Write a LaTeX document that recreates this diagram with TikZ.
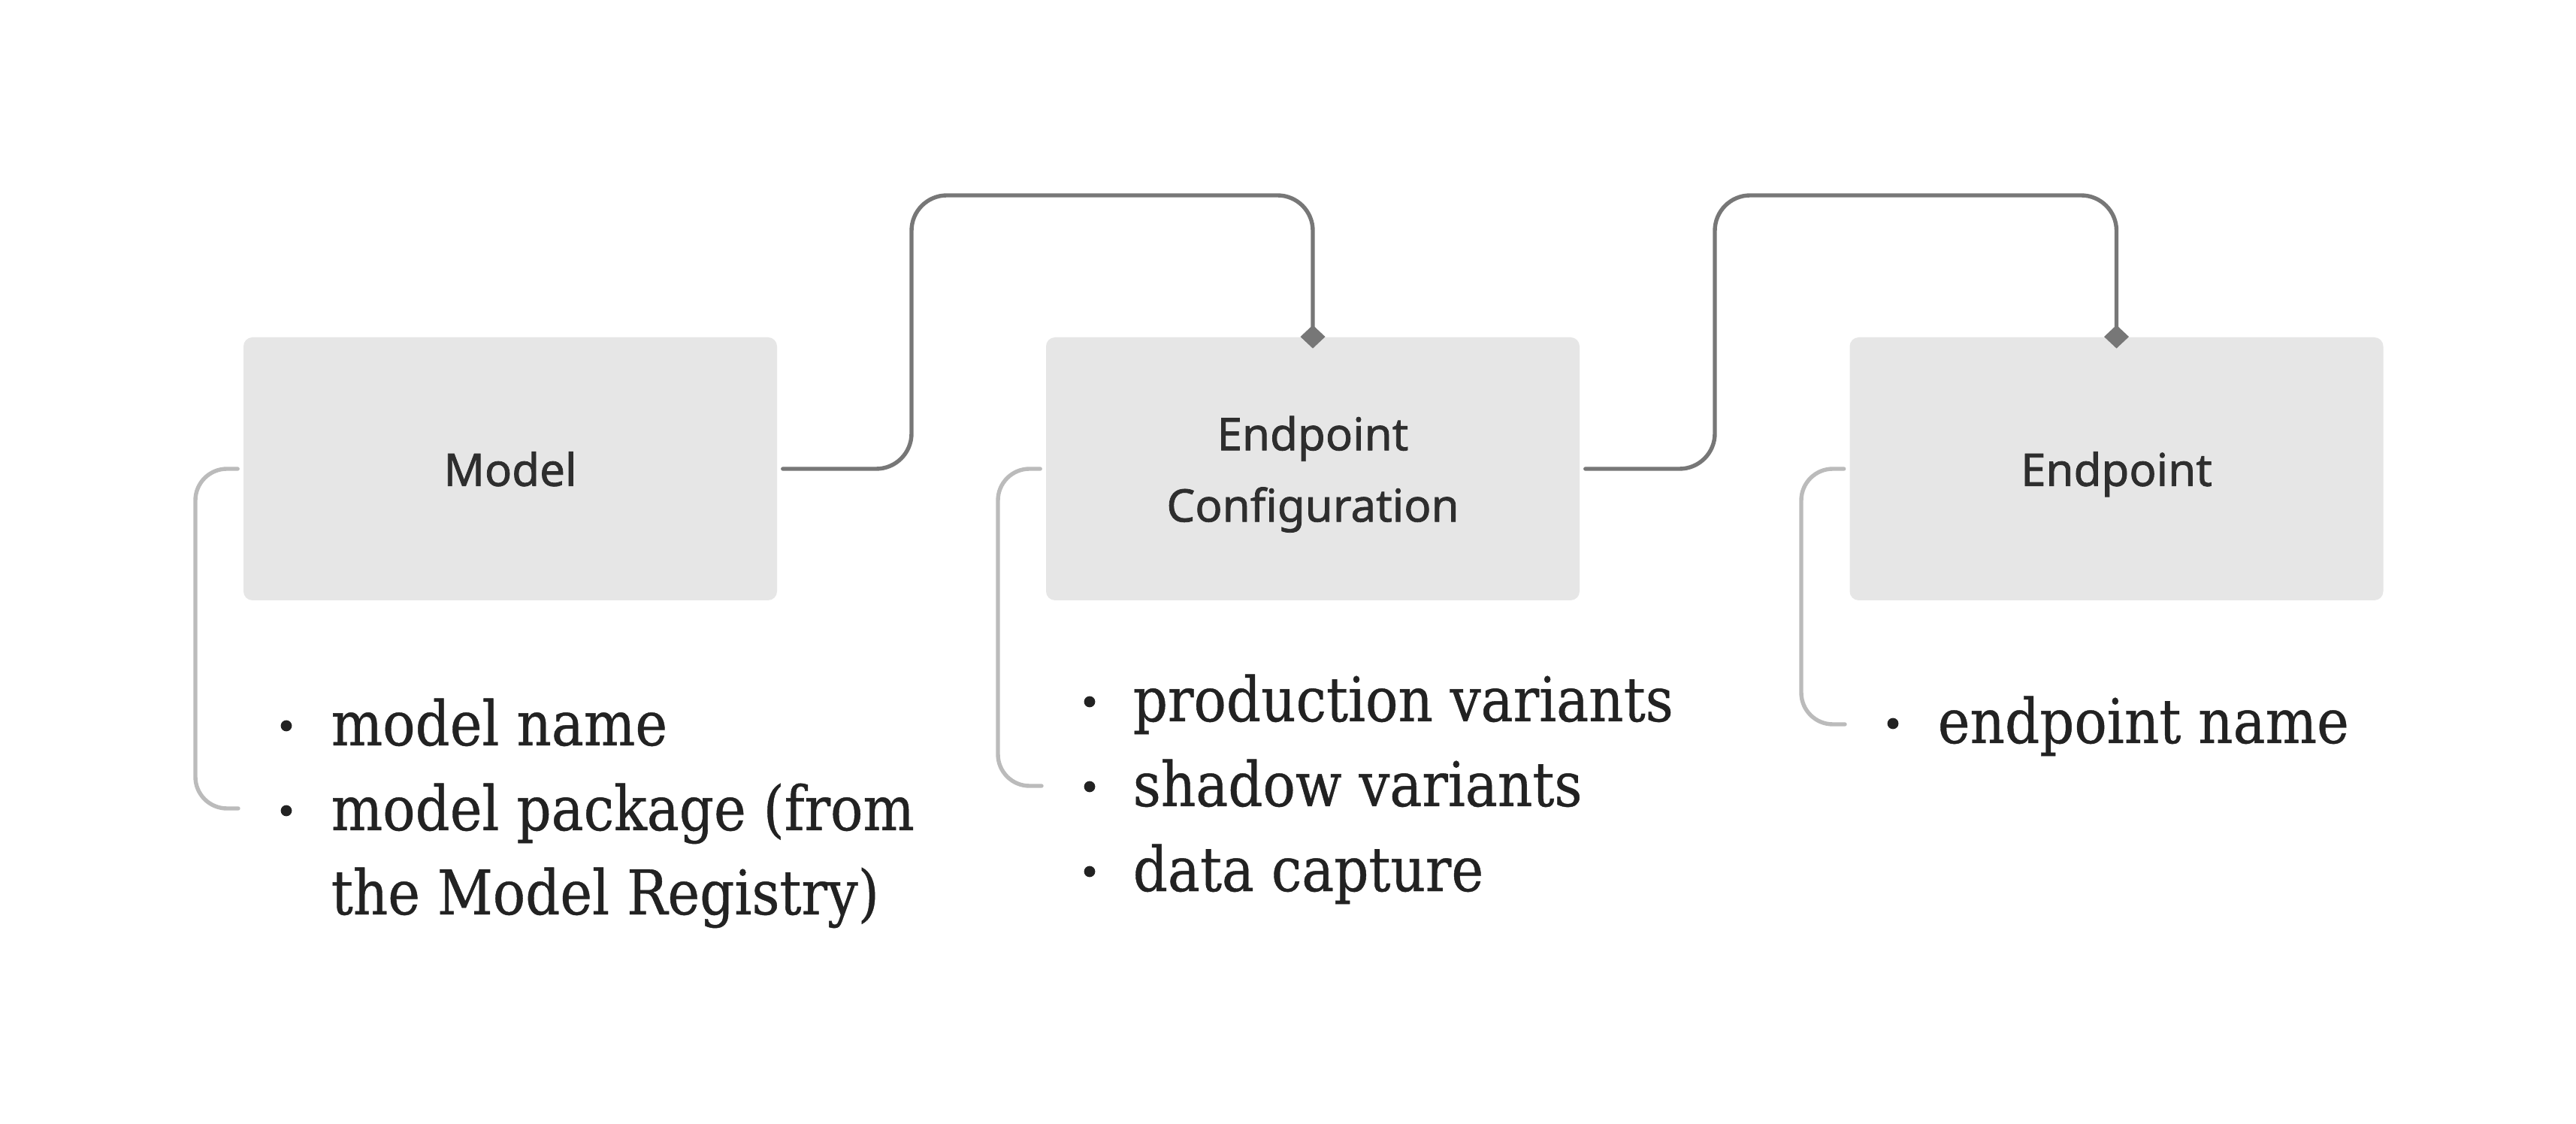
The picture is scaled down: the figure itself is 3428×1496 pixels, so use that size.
\documentclass[tikz,border=0pt]{standalone}
\usepackage{fontspec}
\setmainfont{DejaVu Serif}[FakeStretch=0.88, RawFeature={embolden=0.5}]
\setsansfont{Noto Sans}[RawFeature={embolden=1.3}]
\usetikzlibrary{arrows.meta}
\definecolor{boxgray}{HTML}{E6E6E6}
\definecolor{conngray}{HTML}{777777}
\definecolor{brkgray}{HTML}{BBBBBB}
\definecolor{labelc}{HTML}{2E2E2E}
\definecolor{listc}{HTML}{222222}
\tikzset{
  box/.style={rectangle, rounded corners=3pt, fill=boxgray, draw=none,
    minimum width=177.5pt, minimum height=87.5pt, inner sep=0pt,
    text depth=0pt, align=center, text=labelc,
    font=\sffamily\fontsize{15pt}{23.75pt}\selectfont},
  conn/.style={draw=conngray, line width=1.35pt, line cap=round,
    rounded corners=11.75pt, -{Diamond[length=7.75pt,width=8.25pt]}},
  brk/.style={draw=brkgray, line width=1.35pt, line cap=round,
    rounded corners=10.5pt},
  item/.style={anchor=base west, inner sep=0pt, text=listc,
    font=\rmfamily\fontsize{20.5pt}{28.25pt}\selectfont},
  bul/.style={circle, fill=listc, inner sep=0pt, minimum size=3.7pt}
}
\begin{document}
\begin{tikzpicture}[x=0.25pt, y=-0.25pt]
\useasboundingbox[fill=white] (0,0) rectangle (3428,1496);

% boxes
\node[box] (m)  at (679,624)    {Model};
\node[box] (ec) at (1747,624)   {Endpoint\\Configuration};
\node[box] (ep) at (2816.5,624) {Endpoint};

% connectors
\coordinate (k1) at (1213,260);
\coordinate (k2) at (2282,260);
\draw[conn] ([xshift=1.75pt]m.east) -| (k1) -| ([yshift=-3.875pt]ec.north);
\draw[conn] ([xshift=1.75pt]ec.east) -| (k2) -| ([yshift=-3.875pt]ep.north);

% brackets
\coordinate (mb) at (317,1076);
\coordinate (mv) at (260,1076);
\coordinate (eb) at (1386,1046);
\coordinate (ev) at (1328,1046);
\coordinate (pb) at (2455,964);
\coordinate (pv) at (2397,964);
\draw[brk] ([xshift=-1.75pt]m.west) -| (mv) -- (mb);
\draw[brk] ([xshift=-1.75pt]ec.west) -| (ev) -- (eb);
\draw[brk] ([xshift=-1.75pt]ep.west) -| (pv) -- (pb);

% Model list
\node[item] (m1) at (440,992)  {model name};
\node[item] (m2) at (440,1105) {model package (from};
\node[item] (m3) at (440,1217) {the Model Registry)};
\node[bul] (mb1) at (381,966) {};
\node[bul] (mb2) at (381,1079) {};

% Endpoint Configuration list
\node[item] (e1) at (1507,960)  {production variants};
\node[item] (e2) at (1507,1073) {shadow variants};
\node[item] (e3) at (1507,1186) {data capture};
\node[bul] (eb1) at (1450,934) {};
\node[bul] (eb2) at (1450,1047) {};
\node[bul] (eb3) at (1450,1160) {};

% Endpoint list
\node[item] (p1) at (2578,989) {endpoint name};
\node[bul] (pb1) at (2519,963) {};
\end{tikzpicture}
\end{document}
